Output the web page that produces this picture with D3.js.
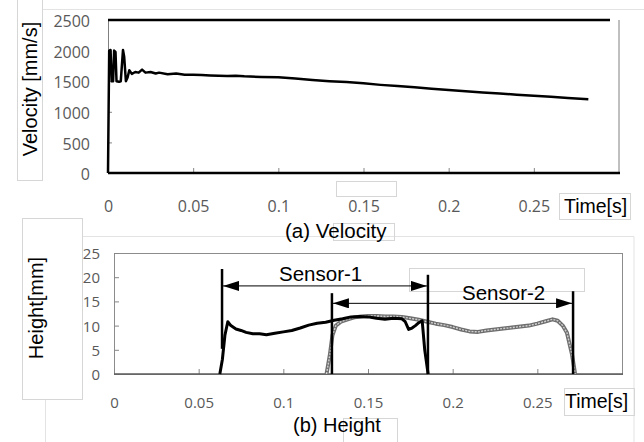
<!DOCTYPE html>
<html>
<head>
<meta charset="utf-8">
<script src="https://cdn.jsdelivr.net/npm/d3@7"></script>
<style>
  body { margin: 0; background: #fff; }
  svg { display: block; }
  .tick text { font-family: "Open Sans", sans-serif; fill: #595959; }
  .tick line { stroke: #868686; }
  .lbl { font-family: "Liberation Sans", Arial, sans-serif; fill: #000; }
</style>
</head>
<body>
<div id="chart"></div>
<script>
// (a) velocity, time [s] vs velocity [mm/s]
const velTime = [0, 0.0007, 0.0015, 0.0022, 0.003, 0.0036, 0.0044, 0.005, 0.0065, 0.0075, 0.0088, 0.0095, 0.0105,
    0.0115, 0.0125, 0.014, 0.016, 0.018, 0.02, 0.022, 0.025, 0.028, 0.03, 0.035, 0.04, 0.045, 0.05, 0.055, 0.06,
    0.065, 0.07, 0.075, 0.08, 0.09, 0.1, 0.11, 0.12, 0.13, 0.14, 0.15, 0.16, 0.17, 0.18, 0.19, 0.2, 0.21, 0.22,
    0.23, 0.24, 0.25, 0.26, 0.27, 0.282];
const velValue = [0, 2000, 2010, 1500, 1500, 2000, 1980, 1500, 1490, 1500, 2010, 1900, 1500,
    1560, 1680, 1620, 1650, 1640, 1690, 1640, 1650, 1625, 1640, 1615, 1625, 1605, 1605, 1600, 1595,
    1590, 1585, 1590, 1580, 1570, 1565, 1545, 1520, 1500, 1485, 1465, 1440, 1420, 1400, 1375, 1355, 1335, 1315,
    1300, 1280, 1262, 1245, 1225, 1205];

// (b) height, Sensor-1 and Sensor-2
const h1Time = [0.0625, 0.064, 0.0655, 0.0672, 0.069, 0.072, 0.075, 0.078, 0.082, 0.086, 0.09, 0.095, 0.1,
    0.105, 0.11, 0.115, 0.12, 0.125, 0.13, 0.135, 0.14, 0.145, 0.15, 0.155, 0.16, 0.165, 0.17, 0.172, 0.174,
    0.176, 0.178, 0.18, 0.182, 0.1835, 0.1855];
const h1Value = [0, 3, 8, 10.8, 10, 9.3, 9, 8.6, 8.3, 8.3, 8.1, 8.4, 8.7,
    9.0, 9.5, 10.1, 10.5, 10.7, 11.1, 11.4, 11.8, 11.9, 11.8, 11.5, 11.3, 11.5, 11.4, 10.8, 9.2,
    9.5, 10, 10.6, 11, 5, 0];
const h2Time = [0.1255, 0.1275, 0.129, 0.131, 0.134, 0.138, 0.142, 0.146, 0.15, 0.155, 0.16, 0.165, 0.17, 0.175,
    0.18, 0.185, 0.19, 0.195, 0.2, 0.205, 0.21, 0.215, 0.22, 0.225, 0.23, 0.235, 0.24, 0.245, 0.25, 0.255,
    0.259, 0.262, 0.265, 0.2675, 0.2705, 0.2723];
const h2Value = [0, 4, 8, 10, 10.8, 11.3, 11.7, 11.9, 12, 12, 11.9, 11.9, 11.8, 11.5,
    11.2, 10.8, 10.4, 10.1, 9.7, 9.2, 8.8, 8.7, 9.0, 9.2, 9.4, 9.6, 9.8, 10.0, 10.4, 10.9,
    11.3, 11.0, 10.0, 8.5, 4, 0];

// sensor marks: vertical bars (time, from, to) and arrows (from, to, level)
const sensorBars = [[0.0638, 5.2, 21.7], [0.1287, 0, 16.7], [0.1854, 0, 20.5], [0.2711, 0, 17.1]];
const sensorArrows = [{ name: "Sensor-1", t0: 0.0638, t1: 0.1854, h: 18.2 },
                      { name: "Sensor-2", t0: 0.1287, t1: 0.2711, h: 14.6 }];

const timeTicks = [0, 0.05, 0.1, 0.15, 0.2, 0.25];
const timeLabels = ["0", "0.05", "0.1", "0.15", "0.2", "0.25"];
const velTicks = [0, 500, 1000, 1500, 2000, 2500];
const heightTicks = [0, 5, 10, 15, 20, 25];

const width = 644, height = 442;
const svg = d3.select("#chart").append("svg").attr("width", width).attr("height", height);

// faint boxes from the original page
const boxes = [[17, -1, 25, 181], [336, 181, 60, 15], [559, 193, 71, 26], [22, 218, 60, 181],
    [333, 223, 61, 17], [409, 268, 175, 23], [564, 388, 70, 27], [343, 418, 54, 30]];
svg.append("path")
    .attr("d", "M42,9.5H644M82,236.5H634V442M45.5,399V442")
    .attr("fill", "none").attr("stroke", "#e3e3e3");
svg.selectAll("rect.box").data(boxes).enter().append("rect")
    .attr("class", "box")
    .attr("x", d => d[0] + 0.5).attr("y", d => d[1] + 0.5)
    .attr("width", d => d[2]).attr("height", d => d[3])
    .attr("fill", "none").attr("stroke", "#d6d6d6");

// ---------- (a) Velocity ----------
const xa = d3.scaleLinear().domain([0, 0.3]).range([108, 619]);
const ya = d3.scaleLinear().domain([0, 2500]).range([173, 20]);

const axA = svg.append("g").attr("transform", "translate(0,173)")
    .call(d3.axisBottom(xa).tickValues(timeTicks).tickFormat((d, i) => timeLabels[i])
        .tickSize(-5).tickPadding(28));
axA.select(".domain").remove();
axA.selectAll("text").style("font-size", "16px");
const ayA = svg.append("g").attr("transform", "translate(108,0)")
    .call(d3.axisLeft(ya).tickValues(velTicks).tickFormat(d => String(d)).tickSize(-4).tickPadding(18));
ayA.select(".domain").remove();
ayA.selectAll("text").style("font-size", "16px").attr("dy", "0.42em");

svg.append("line").attr("x1", 108.5).attr("x2", 108.5).attr("y1", 20).attr("y2", 173)
    .attr("stroke", "#808080");
svg.append("line").attr("x1", 619).attr("x2", 619).attr("y1", 20).attr("y2", 173)
    .attr("stroke", "#808080");
svg.append("line").attr("x1", 108).attr("x2", 610).attr("y1", 20).attr("y2", 20)
    .attr("stroke", "#000").attr("stroke-width", 2.5);
svg.append("line").attr("x1", 108).attr("x2", 620).attr("y1", 173).attr("y2", 173)
    .attr("stroke", "#000").attr("stroke-width", 2.5);

const velLine = d3.line().x((d, i) => xa(velTime[i])).y(d => ya(d));
svg.append("path").datum(velValue).attr("d", velLine)
    .attr("fill", "none").attr("stroke", "#000").attr("stroke-width", 2.5)
    .attr("stroke-linejoin", "round");

svg.append("text").attr("class", "lbl").attr("transform", "translate(37,89) rotate(-90)")
    .attr("text-anchor", "middle").style("font-size", "20px").text("Velocity [mm/s]");
svg.append("text").attr("class", "lbl").attr("x", 564).attr("y", 213)
    .style("font-size", "19.5px").text("Time[s]");
svg.append("text").attr("class", "lbl").attr("x", 285).attr("y", 238)
    .style("font-size", "20.5px").text("(a) Velocity");

// ---------- (b) Height ----------
const xb = d3.scaleLinear().domain([0, 0.3]).range([114, 622]);
const yb = d3.scaleLinear().domain([0, 25]).range([374, 253]);

svg.append("rect").attr("x", 114.5).attr("y", 253.5).attr("width", 508).attr("height", 121)
    .attr("fill", "none").attr("stroke", "#8c8c8c");
const axB = svg.append("g").attr("transform", "translate(0,374)")
    .call(d3.axisBottom(xb).tickValues(timeTicks).tickFormat((d, i) => timeLabels[i])
        .tickSize(-5).tickPadding(23));
axB.select(".domain").remove();
axB.selectAll("text").style("font-size", "15px");
const ayB = svg.append("g").attr("transform", "translate(114,0)")
    .call(d3.axisLeft(yb).tickValues(heightTicks).tickFormat(d => String(d)).tickSize(-5).tickPadding(14));
ayB.select(".domain").remove();
ayB.selectAll("text").style("font-size", "15px").attr("dy", "0.36em");
svg.append("line").attr("x1", 114).attr("x2", 623).attr("y1", 374).attr("y2", 374)
    .attr("stroke", "#5a5a5a").attr("stroke-width", 1.5);

// Sensor-2: grey bead line
const l2 = d3.line().x((d, i) => xb(h2Time[i])).y(d => yb(d));
svg.append("path").datum(h2Value).attr("d", l2)
    .attr("fill", "none").attr("stroke", "#6e6e6e").attr("stroke-width", 4)
    .attr("stroke-linejoin", "round");
svg.append("path").datum(h2Value).attr("d", l2)
    .attr("fill", "none").attr("stroke", "#d0d0d0").attr("stroke-width", 1.4)
    .attr("stroke-dasharray", "2,1.2");

// Sensor-1: black line
const l1 = d3.line().x((d, i) => xb(h1Time[i])).y(d => yb(d));
svg.append("path").datum(h1Value).attr("d", l1)
    .attr("fill", "none").attr("stroke", "#000").attr("stroke-width", 3)
    .attr("stroke-linejoin", "round");

// sensor ranges
svg.selectAll("line.bar").data(sensorBars).enter().append("line")
    .attr("class", "bar")
    .attr("x1", d => xb(d[0])).attr("x2", d => xb(d[0]))
    .attr("y1", d => yb(d[1])).attr("y2", d => yb(d[2]))
    .attr("stroke", "#000").attr("stroke-width", 2.5);

svg.append("defs").selectAll("marker").data(["s", "e"]).enter().append("marker")
    .attr("id", d => "arr-" + d)
    .attr("viewBox", "0 0 16 10").attr("markerUnits", "userSpaceOnUse")
    .attr("markerWidth", 16).attr("markerHeight", 10)
    .attr("refX", 16).attr("refY", 5).attr("orient", d => d === "e" ? "auto" : "auto-start-reverse")
    .append("path").attr("d", "M0,0L16,5L0,10Z").attr("fill", "#000");

svg.selectAll("line.arrow").data(sensorArrows).enter().append("line")
    .attr("class", "arrow")
    .attr("x1", d => xb(d.t0) + 1).attr("x2", d => xb(d.t1) - 1)
    .attr("y1", d => yb(d.h)).attr("y2", d => yb(d.h))
    .attr("stroke", "#000").attr("stroke-width", 1)
    .attr("marker-start", "url(#arr-s)").attr("marker-end", "url(#arr-e)");

svg.append("text").attr("class", "lbl").attr("x", 279).attr("y", 281)
    .style("font-size", "20.5px").text("Sensor-1");
svg.append("text").attr("class", "lbl").attr("x", 462).attr("y", 300)
    .style("font-size", "20.5px").text("Sensor-2");

svg.append("text").attr("class", "lbl").attr("transform", "translate(43,308) rotate(-90)")
    .attr("text-anchor", "middle").style("font-size", "20px").text("Height[mm]");
svg.append("text").attr("class", "lbl").attr("x", 565).attr("y", 408)
    .style("font-size", "19.5px").text("Time[s]");
svg.append("text").attr("class", "lbl").attr("x", 293).attr("y", 432)
    .style("font-size", "20px").text("(b) Height");
</script>
</body>
</html>
